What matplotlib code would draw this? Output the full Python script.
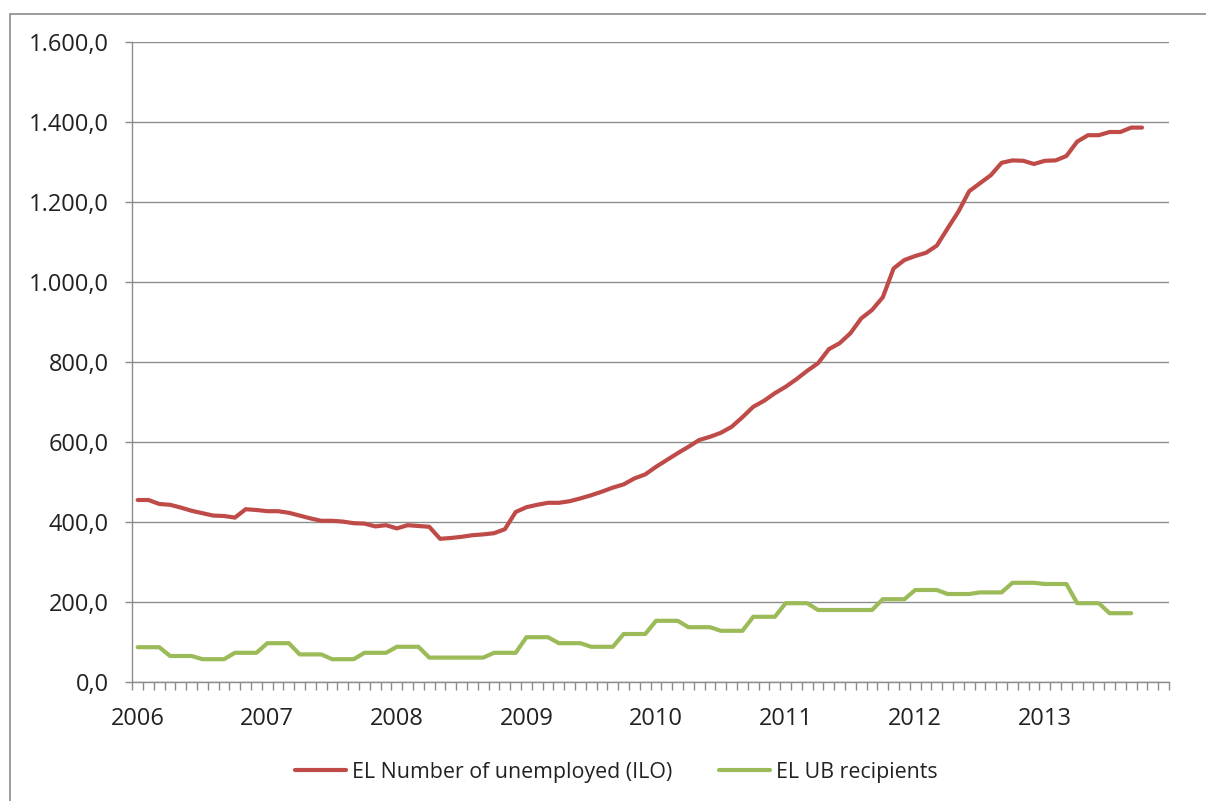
import numpy as np
import matplotlib
matplotlib.use('Agg')
import matplotlib.pyplot as plt
import matplotlib.patches as patches
from matplotlib.ticker import FuncFormatter

plt.rcParams['font.family'] = ['Open Sans', 'DejaVu Sans']

# monthly values, Jan 2006 onwards (thousands)
unemployed_ilo = [
    455, 455, 445, 443, 436, 428, 422, 416, 415, 411, 432, 430,
    427, 427, 423, 416, 409, 403, 403, 401, 397, 396, 389, 392,
    384, 392, 390, 388, 358, 360, 363, 367, 369, 372, 382, 425,
    437, 443, 448, 448, 452, 459, 467, 476, 486, 494, 509, 519,
    538, 555, 572, 588, 605, 613, 623, 638, 662, 688, 703, 722,
    738, 757, 778, 797, 832, 847, 872, 909, 930, 962, 1034, 1055,
    1065, 1073, 1091, 1134, 1176, 1227, 1247, 1267, 1298, 1304, 1303, 1295,
    1303, 1304, 1315, 1351, 1367, 1367, 1375, 1375, 1386, 1386,
]
ub_recipients = [
    87, 87, 87, 65, 65, 65, 57, 57, 57, 73, 73, 73,
    97, 97, 97, 69, 69, 69, 57, 57, 57, 73, 73, 73,
    88, 88, 88, 61, 61, 61, 61, 61, 61, 73, 73, 73,
    112, 112, 112, 97, 97, 97, 88, 88, 88, 120, 120, 120,
    153, 153, 153, 137, 137, 137, 128, 128, 128, 163, 163, 163,
    197, 197, 197, 180, 180, 180, 180, 180, 180, 207, 207, 207,
    230, 230, 230, 220, 220, 220, 224, 224, 224, 248, 248, 248,
    245, 245, 245, 197, 197, 197, 172, 172, 172,
]
years = ['2006', '2007', '2008', '2009', '2010', '2011', '2012', '2013']
n_categories = 96

red = '#BE4B48'
green = '#9BBB59'
grid_gray = '#8C8C8C'

fig = plt.figure(figsize=(12.06, 8.01), dpi=100)
ax = fig.add_axes([132.3 / 1206, 1 - 682 / 801, (1169 - 132.3) / 1206, 640 / 801])

x_red = np.arange(len(unemployed_ilo))
x_green = np.arange(len(ub_recipients))
ax.plot(x_red, unemployed_ilo, color=red, linewidth=3, solid_capstyle='round',
        solid_joinstyle='round', label='EL Number of unemployed (ILO)')
ax.plot(x_green, ub_recipients, color=green, linewidth=3, solid_capstyle='round',
        solid_joinstyle='round', label='EL UB recipients')

ax.set_xlim(-0.5, n_categories - 0.5)
ax.set_ylim(0, 1600)

# y axis
ax.set_yticks(np.arange(0, 1601, 200))
ax.yaxis.set_major_formatter(FuncFormatter(
    lambda v, p: f'{v:,.1f}'.replace(',', 'X').replace('.', ',').replace('X', '.')))
ax.tick_params(axis='y', length=5, width=1, color=grid_gray, pad=12, labelsize=17, labelcolor='#222222')
ax.grid(axis='y', color=grid_gray, linewidth=1)
ax.set_axisbelow(True)

# x axis: ticks between categories, year labels on january
ax.set_xticks(np.arange(-0.5, n_categories, 1))
ax.set_xticklabels([])
ax.tick_params(axis='x', which='major', length=6, width=1, color=grid_gray, direction='out')
ax.set_xticks(np.arange(0, 12 * len(years), 12), minor=True)
ax.set_xticklabels(years, minor=True)
ax.tick_params(axis='x', which='minor', length=0, pad=18, labelsize=17, labelcolor='#222222')

for s in ['top', 'right']:
    ax.spines[s].set_visible(False)
for s in ['left', 'bottom']:
    ax.spines[s].set_color(grid_gray)
    ax.spines[s].set_linewidth(1)

ax.legend(loc='center', bbox_to_anchor=(0.467, -0.141), ncol=2,
          frameon=False, fontsize=15.4, handlelength=2.35, handletextpad=0.3,
          columnspacing=2.2, labelcolor='#222222')

# outer chart border
fig.patches.append(patches.Rectangle((10 / 1206, -0.02), 1.1, 0.9825 + 0.02, fill=False,
                                     edgecolor='#8C8C8C', linewidth=1.2,
                                     transform=fig.transFigure, figure=fig))

plt.savefig('out.png', dpi=100)
